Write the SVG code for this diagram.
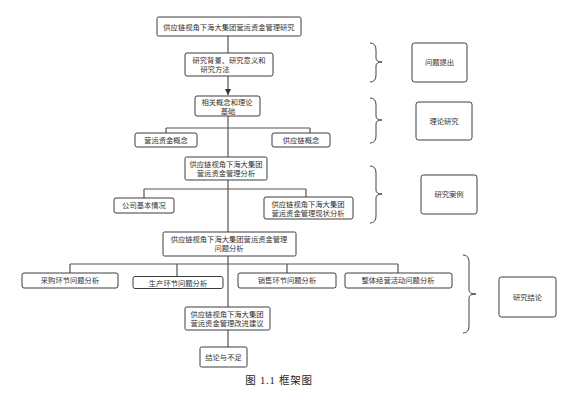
<svg xmlns="http://www.w3.org/2000/svg" width="587" height="414" viewBox="0 0 587 414">
<style>
.b{fill:#fff;stroke:#3c3c3c;stroke-width:1}
.t{font-family:"Noto Sans CJK SC","Noto Sans",sans-serif;font-size:7.3px;fill:#333;text-anchor:middle}
.c{fill:none;stroke:#555;stroke-width:1.2}
.br{fill:none;stroke:#444;stroke-width:1}
</style>
<defs>
<marker id="ah" markerWidth="8" markerHeight="8" refX="6" refY="3" orient="auto" markerUnits="userSpaceOnUse">
<path d="M0,0 L6,3 L0,6 Z" fill="#333"/>
</marker>
</defs>
<rect width="587" height="414" fill="#fff"/>
<g id="connectors">
<path class="c" d="M228,36 V53"/>
<path class="c" d="M228,76 V95" marker-end="url(#ah)"/>
<path class="c" d="M228,116 V157 M166,128 H310 M166,128 V133 M310,128 V133"/>
<path class="c" d="M228,180 V232 M144,189 H306 M144,189 V198 M306,189 V197"/>
<path class="c" d="M228,256 V307 M70,264 H398 M70,264 V273 M177,264 V277 M287,264 V273 M398,264 V273"/>
<path class="c" d="M228,330 V347"/>
</g>
<g id="n1"><rect class="b" x="157" y="17" width="144" height="19" rx="1.5"/><text class="t" x="229" y="29.5">供应链视角下海大集团营运资金管理研究</text></g>
<g id="n2"><rect class="b" x="185" y="53" width="88" height="23" rx="2"/><text class="t" x="229" y="63">研究背景、研究意义和</text><text class="t" x="215" y="72">研究方法</text></g>
<g id="n3"><rect class="b" x="195" y="96" width="65" height="20" rx="2"/><text class="t" x="227" y="105">相关概念和理论</text><text class="t" x="228" y="113.5">基础</text></g>
<g id="n4"><rect class="b" x="135" y="133" width="62" height="14" rx="2"/><text class="t" x="166" y="142.5">营运资金概念</text></g>
<g id="n5"><rect class="b" x="272" y="133" width="58" height="14" rx="2"/><text class="t" x="301" y="142.5">供应链概念</text></g>
<g id="n6"><rect class="b" x="185" y="157" width="82" height="23" rx="1.5"/><text class="t" x="226" y="167">供应链视角下海大集团</text><text class="t" x="226" y="176">营运资金管理分析</text></g>
<g id="n7"><rect class="b" x="114" y="198" width="60" height="15" rx="2"/><text class="t" x="144" y="208">公司基本情况</text></g>
<g id="n8"><rect class="b" x="264" y="197" width="89" height="22" rx="2"/><text class="t" x="308" y="206.5">供应链视角下海大集团</text><text class="t" x="308" y="215.5">营运资金管理现状分析</text></g>
<g id="n9"><rect class="b" x="163" y="232" width="133" height="24" rx="1.5"/><text class="t" x="229" y="242">供应链视角下海大集团营运资金管理</text><text class="t" x="229" y="251">问题分析</text></g>
<g id="n10"><rect class="b" x="22" y="273" width="96" height="15" rx="2"/><text class="t" x="70" y="283">采购环节问题分析</text></g>
<g id="n11"><rect class="b" x="133" y="276.5" width="90" height="12" rx="2"/><text class="t" x="178" y="285.5">生产环节问题分析</text></g>
<g id="n12"><rect class="b" x="238" y="273" width="98" height="15" rx="2"/><text class="t" x="287" y="283">销售环节问题分析</text></g>
<g id="n13"><rect class="b" x="345" y="273" width="107" height="15" rx="2"/><text class="t" x="398" y="283">整体经营活动问题分析</text></g>
<g id="n14"><rect class="b" x="185" y="307" width="85" height="23" rx="1.5"/><text class="t" x="227" y="317">供应链视角下海大集团</text><text class="t" x="227" y="326">营运资金管理改进建议</text></g>
<g id="n15"><rect class="b" x="200" y="347" width="47" height="20" rx="1.5"/><text class="t" x="223.5" y="359.5">结论与不足</text></g>
<g id="brace1"><path class="br" d="M370,43 Q376,43 376,50 L376,58 Q376,62 382,62 Q376,62 376,66 L376,75 Q376,82 370,82"/></g>
<g id="brace2"><path class="br" d="M370,98 Q376,98 376,105 L376,116 Q376,120 382,120 Q376,120 376,124 L376,136 Q376,143 370,143"/></g>
<g id="brace3"><path class="br" d="M370,166 Q376,166 376,173 L376,190 Q376,194 382,194 Q376,194 376,198 L376,216 Q376,223 370,223"/></g>
<g id="brace4"><path class="br" d="M463,255 Q469,255 469,262 L469,290 Q469,294 476,294 Q469,294 469,298 L469,326 Q469,333 463,333"/></g>
<g id="r1"><rect class="b" x="412" y="43" width="55" height="39" rx="2.5"/><text class="t" x="439.5" y="65">问题提出</text></g>
<g id="r2"><rect class="b" x="416" y="102" width="56" height="38" rx="2.5"/><text class="t" x="444" y="123.5">理论研究</text></g>
<g id="r3"><rect class="b" x="421" y="175" width="56" height="39" rx="2.5"/><text class="t" x="449" y="197">研究案例</text></g>
<g id="r4"><rect class="b" x="499" y="277" width="57" height="40" rx="2.5"/><text class="t" x="527.5" y="299.5">研究结论</text></g>
<text x="279" y="384" font-family="'Liberation Serif','Noto Sans CJK SC',serif" font-size="10.5" letter-spacing="0.8" fill="#222" text-anchor="middle">图 1.1 框架图</text>
</svg>
